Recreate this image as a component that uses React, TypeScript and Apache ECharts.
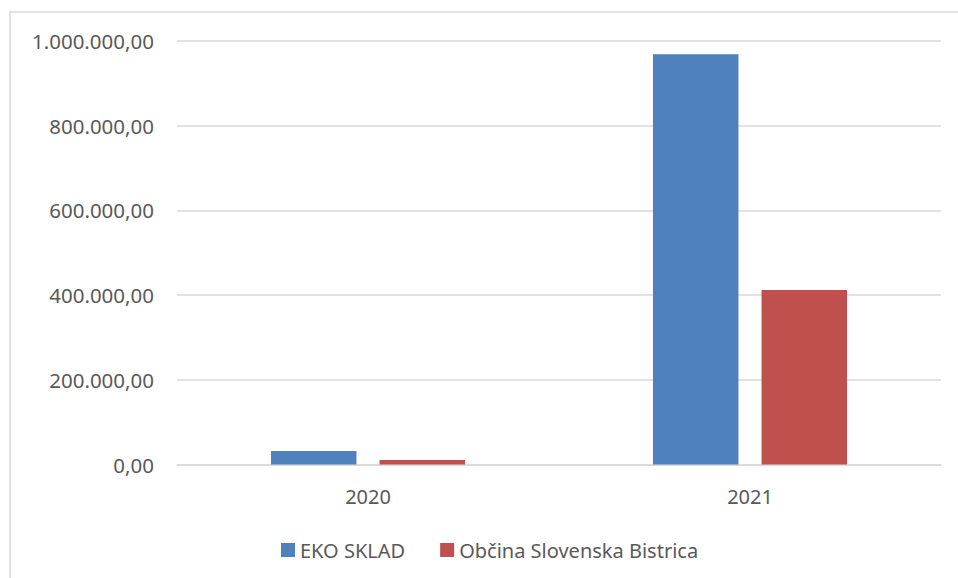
import React, { useEffect, useRef } from "react";
import * as echarts from "echarts";

const categories = ["2020", "2021"];
const ekoSklad = [31900, 968600];
const obcina = [10600, 412000];
const seriesNames = ["EKO SKLAD", "Občina Slovenska Bistrica"];

const fmt = (v: number) => {
  const s = Math.round(v).toString().replace(/\B(?=(\d{3})+(?!\d))/g, ".");
  return s + ",00";
};

export default function App() {
  const ref = useRef<HTMLDivElement>(null);
  useEffect(() => {
    document.body.style.margin = "0";
    const chart = echarts.init(ref.current!, null, { renderer: "svg" });
    const font = "'Noto Sans', sans-serif";
    chart.setOption({
      animation: false,
      backgroundColor: "#ffffff",
      graphic: [
        {
          type: "rect",
          shape: { x: 10, y: 12, width: 980, height: 600 },
          style: { fill: "none", stroke: "#d9d9d9", lineWidth: 1.5 },
          silent: true,
        },
      ],
      grid: { left: 177, right: 17, top: 41, bottom: 113.5, containLabel: false },
      legend: {
        data: seriesNames,
        left: 276,
        top: 535,
        itemWidth: 14,
        itemHeight: 14,
        itemGap: 35,
        icon: "rect",
        textStyle: { fontFamily: font, fontSize: 20, color: "#595959" },
      },
      xAxis: {
        type: "category",
        data: categories,
        axisLine: { lineStyle: { color: "#d9d9d9", width: 1.5 } },
        axisTick: { show: false },
        axisLabel: { fontFamily: font, fontSize: 20, color: "#595959", margin: 22 },
      },
      yAxis: {
        type: "value",
        min: 0,
        max: 1000000,
        interval: 200000,
        axisLine: { show: false },
        axisTick: { show: false },
        splitLine: { lineStyle: { color: "#d9d9d9", width: 1.5 } },
        axisLabel: {
          fontFamily: font,
          fontSize: 20.5,
          color: "#595959",
          margin: 23,
          formatter: (v: number) => fmt(v),
        },
      },
      series: [
        {
          name: seriesNames[0],
          type: "bar",
          data: ekoSklad,
          barWidth: 85.5,
          barGap: "27%",
          itemStyle: { color: "#4f81bd" },
        },
        {
          name: seriesNames[1],
          type: "bar",
          data: obcina,
          barWidth: 85.5,
          itemStyle: { color: "#c0504d" },
        },
      ],
    });
    return () => chart.dispose();
  }, []);
  return <div ref={ref} style={{ width: 958, height: 578 }} />;
}
